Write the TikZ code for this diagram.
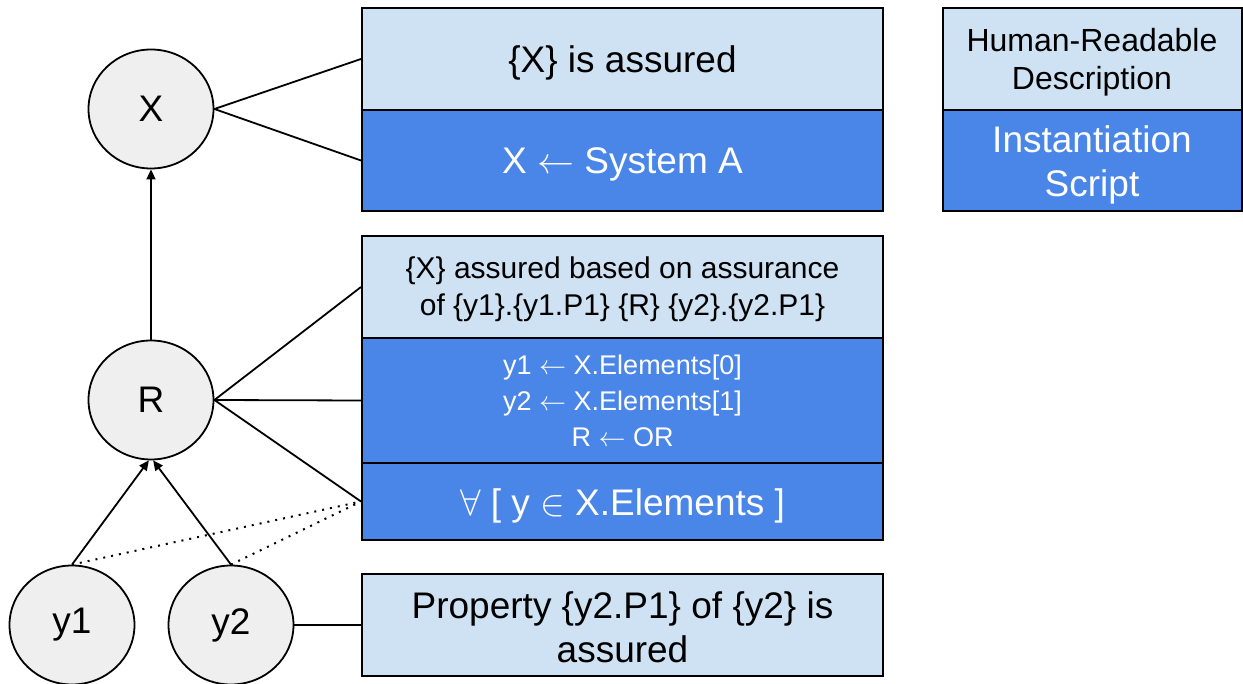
\RequirePackage{fix-cm}
\documentclass[tikz,border=0pt]{standalone}
\usepackage{fontspec}
\setmainfont{Liberation Sans}
\usetikzlibrary{arrows.meta,shapes.geometric}
\definecolor{lightbox}{HTML}{CFE2F3}
\definecolor{darkbox}{HTML}{4A86E8}
\definecolor{nodefill}{HTML}{EFEFEF}
\tikzset{
  var/.style={ellipse, draw=black, fill=nodefill, line width=1.8pt, minimum width=125pt, minimum height=119pt, inner sep=0pt, font=\fontsize{37}{44}\selectfont},
  desc/.style={rectangle, draw=black, fill=lightbox, line width=2pt, minimum width=521pt, inner sep=0pt},
  script/.style={fill=darkbox},
  dtxt/.style={align=center, text=black, inner sep=0pt, font=\fontsize{37}{44}\selectfont},
  stxt/.style={dtxt, text=white},
  link/.style={line width=1.8pt, draw=black},
  arr/.style={link, -{Triangle[length=10pt,width=9pt]}},
  dots/.style={line width=2pt, draw=black, dash pattern=on 2pt off 6pt},
}
\newcommand{\la}{$\leftarrow$}
\begin{document}
\begin{tikzpicture}[x=1pt,y=-1pt]
\useasboundingbox (0,0) rectangle (1243,684);
% variable nodes
\node[var] (X) at (151,109) {X};
\node[var] (R) at (151,400) {R};
\node[var] (y1) at (72,625) {y1};
\node[var] (y2) at (231,625) {y2};
% boxes
\node[desc, minimum height=102pt] (Xd) at (622.5,59) {};
\node[desc, script, minimum height=101pt] (Xs) at (622.5,160.5) {};
\node[desc, minimum height=102pt] (Rd) at (622.5,287) {};
\node[desc, script, minimum height=125pt] (Rs) at (622.5,400.5) {};
\node[desc, script, minimum height=77pt] (Ys) at (622.5,501.5) {};
\node[desc, minimum height=102pt] (Pd) at (622.5,625) {};
\node[desc, minimum width=299pt, minimum height=102pt] (Ld) at (1092,59) {};
\node[desc, script, minimum width=299pt, minimum height=101pt] (Ls) at (1092,160.5) {};
% texts
\node[dtxt] (tXd) at ([yshift=-4pt]Xd.center) {\{X\} is assured};
\node[stxt] (tXs) at ([yshift=-4pt]Xs.center) {X \la{} System A};
\node[dtxt, font=\fontsize{30}{37}\selectfont] (tRd) at ([yshift=-2pt]Rd.center) {\{X\} assured based on assurance\\of \{y1\}.\{y1.P1\} \{R\} \{y2\}.\{y2.P1\}};
\node[stxt, font=\fontsize{27}{36}\selectfont] (tRs) at ([yshift=0pt]Rs.center) {y1 \la{} X.Elements[0]\\y2 \la{} X.Elements[1]\\R \la{} OR};
\node[stxt] (tYs) at ([yshift=-4pt]Ys.center) {$\forall$ [ y $\in$ X.Elements ]};
\node[dtxt] (tPd) at ([yshift=-2pt]Pd.center) {Property \{y2.P1\} of \{y2\} is\\assured};
\node[dtxt, font=\fontsize{32}{38}\selectfont] (tLd) at ([yshift=-3pt]Ld.center) {Human-Readable\\Description};
\node[stxt] (tLs) at ([yshift=-4pt]Ls.center) {Instantiation\\Script};
% connectors
\draw[link] (X.east) -- (Xd.west);
\draw[link] (X.east) -- (Xs.west);
\draw[link] (R.east) -- (Rd.west);
\draw[link] (R.east) -- (Rs.west);
\draw[link] (R.east) -- (Ys.west);
\draw[link] (y2.east) -- (Pd.west);
\draw[arr] (R) -- (X);
\draw[arr] (y1.north) -- (R.268);
\draw[arr] (y2.north) -- (R.272);
\draw[dots] (y1.north) -- (Ys.west);
\draw[dots] (y2.north) -- (Ys.west);
\end{tikzpicture}
\end{document}
